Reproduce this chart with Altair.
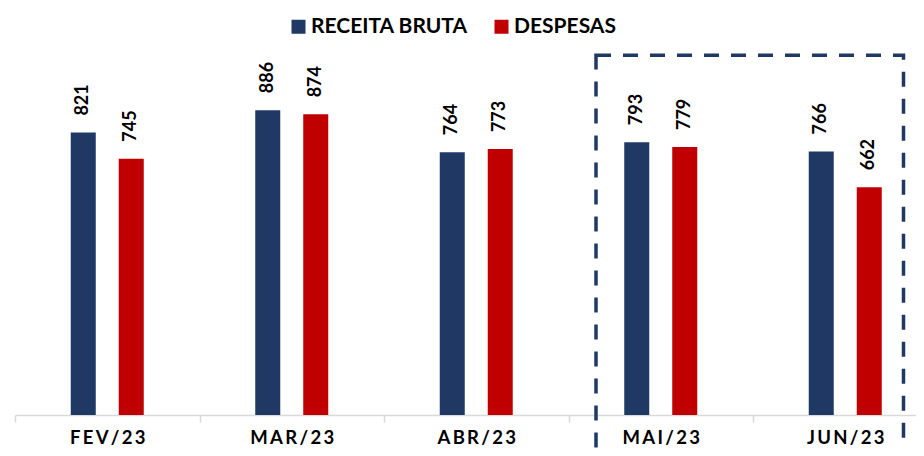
import altair as alt
import pandas as pd

months = ["FEV/23", "MAR/23", "ABR/23", "MAI/23", "JUN/23"]
series = ["RECEITA BRUTA", "DESPESAS"]
receita = [821, 886, 764, 793, 766]
despesas = [745, 874, 773, 779, 662]
colors = ["#1f3864", "#c00000"]

rows = []
for m, r, d in zip(months, receita, despesas):
    rows.append({"mes": m, "serie": series[0], "valor": r})
    rows.append({"mes": m, "serie": series[1], "valor": d})
df = pd.DataFrame(rows)

box = pd.DataFrame({"start": ["MAI/23"], "end": ["JUN/23"], "top": [1046], "bottom": [-200]})

xscale = alt.Scale(domain=months, range=[0, 922.5], paddingInner=0, paddingOuter=0)
yscale = alt.Scale(domain=[0, 1000], nice=False, zero=True)

x = alt.X("mes:N", scale=xscale, sort=months,
          axis=alt.Axis(title=None, orient="bottom", labelAngle=0, grid=False,
                        domainColor="#d9d9d9", domainWidth=1.5,
                        tickColor="#d9d9d9", tickWidth=1.5, tickSize=7, tickBand="extent",
                        labelFont="Lato", labelFontSize=18.5, labelFontWeight="bold",
                        labelColor="black", labelPadding=6.5,
                        labelExpr="join(split(datum.label, ''), '\u2009')"))
xo = alt.XOffset("serie:N", scale=alt.Scale(domain=series, range=[55.75, 128.75],
                                             paddingInner=0.479, paddingOuter=0))
y = alt.Y("valor:Q", scale=yscale, axis=None)

bars = alt.Chart(df).mark_bar().encode(
    x=x, xOffset=xo, y=y,
    color=alt.Color("serie:N", scale=alt.Scale(domain=series, range=colors),
                    legend=alt.Legend(title=None, orient="none", legendX=273, legendY=-55,
                                      direction="horizontal", symbolType="square",
                                      symbolSize=196, symbolStrokeWidth=0,
                                      labelFont="Lato", labelFontSize=21,
                                      labelFontWeight="bold", labelColor="black",
                                      labelLimit=0,
                                      labelOffset=2, columnPadding=23, padding=0)),
)

labels = alt.Chart(df).mark_text(angle=270, align="left", baseline="middle", dx=17,
                                 font="Lato", fontSize=18, fontWeight="bold",
                                 color="black").encode(
    x=x, xOffset=xo, y=y, text=alt.Text("valor:Q"))

rect = alt.Chart(box).mark_rect(fill=None, stroke="#1f3864", strokeWidth=3.5,
                                strokeDash=[15, 12], xOffset=27.5, x2Offset=150.5).encode(
    x=alt.X("start:N", scale=xscale, bandPosition=0),
    x2=alt.X2("end:N", bandPosition=0),
    y=alt.Y("top:Q", scale=yscale),
    y2=alt.Y2("bottom:Q"),
)

chart = alt.layer(bars, labels, rect).properties(
    width=901, height=344,
    autosize=alt.AutoSizeParams(type="none"),
    padding={"left": 7, "top": 63, "right": 0, "bottom": 33},
).configure_view(stroke=None)

chart.save("out.html", embed_options={"renderer": "svg", "actions": False})
